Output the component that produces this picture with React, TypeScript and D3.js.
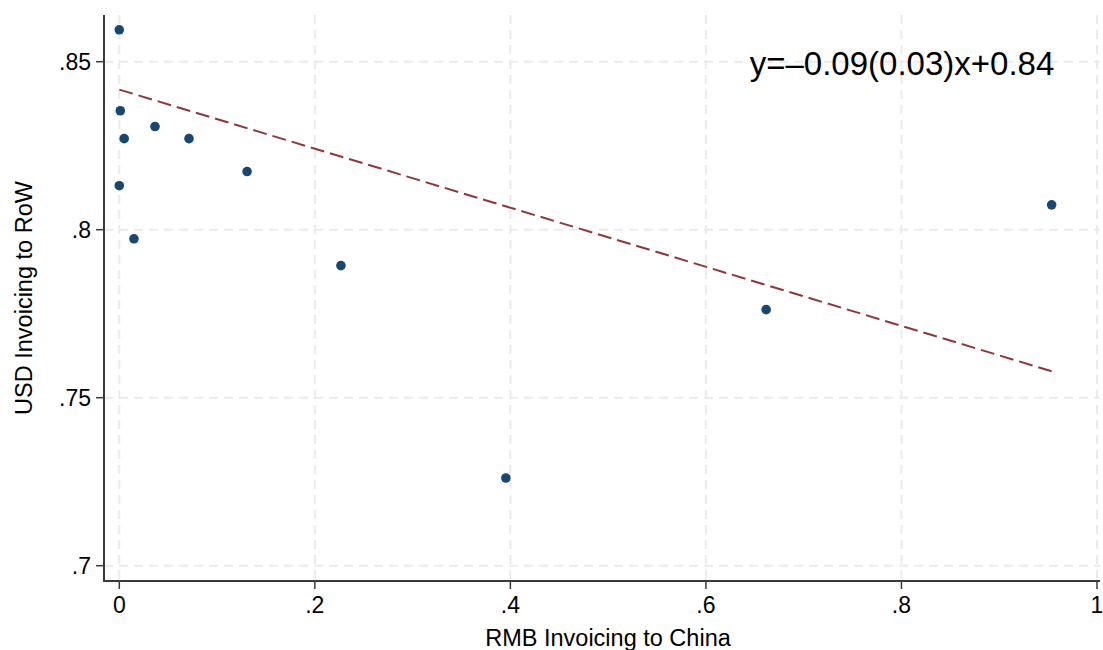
import React, { useEffect, useRef } from "react";
import * as d3 from "d3";

// RMB share of invoicing to China vs. USD share of invoicing to the rest of the world
const rmbToChina = [0.0, 0.001, 0.005, 0.0365, 0.0713, 0.1307, 0.0, 0.015, 0.2267, 0.3954, 0.6616, 0.9536];
const usdToRow = [0.8595, 0.8354, 0.8271, 0.8307, 0.8271, 0.8173, 0.8131, 0.7973, 0.7893, 0.7261, 0.7762, 0.8074];

// Fitted line (coefficients reported in the annotation)
const fitIntercept = 0.8417;
const fitSlope = -0.0879;
const fitLabel = "y=\u20130.09(0.03)x+0.84";

const xTicks = [0, 0.2, 0.4, 0.6, 0.8, 1];
const xTickLabels = ["0", ".2", ".4", ".6", ".8", "1"];
const yTicks = [0.7, 0.75, 0.8, 0.85];
const yTickLabels = [".7", ".75", ".8", ".85"];

const W = 1103;
const H = 650;
const FONT = "'Liberation Sans', Arial, Helvetica, sans-serif";

export default function App() {
  const ref = useRef<SVGSVGElement>(null);

  useEffect(() => {
    const svg = d3.select(ref.current);
    svg.selectAll("*").remove();

    const x = d3.scaleLinear().domain([0, 1]).range([119.3, 1097]);
    const y = d3.scaleLinear().domain([0.7, 0.85]).range([565.7, 61.7]);

    const plotLeft = 104;
    const plotRight = 1100;
    const plotTop = 15;
    const plotBottom = 581;

    // grid
    const grid = svg.append("g");
    grid
      .selectAll("line.h")
      .data(yTicks)
      .join("line")
      .attr("x1", plotLeft)
      .attr("x2", plotRight)
      .attr("y1", (d) => y(d))
      .attr("y2", (d) => y(d))
      .attr("stroke", "#ebebeb")
      .attr("stroke-width", 2)
      .attr("stroke-dasharray", "9,6");
    grid
      .selectAll("line.v")
      .data(xTicks)
      .join("line")
      .attr("x1", (d) => x(d))
      .attr("x2", (d) => x(d))
      .attr("y1", plotTop)
      .attr("y2", plotBottom)
      .attr("stroke", "#ebebeb")
      .attr("stroke-width", 2)
      .attr("stroke-dasharray", "9,6");

    // fitted line
    const xMax = d3.max(rmbToChina) as number;
    const fitPts: [number, number][] = [
      [0, fitIntercept],
      [xMax, fitIntercept + fitSlope * xMax],
    ];
    svg
      .append("path")
      .attr(
        "d",
        d3
          .line<[number, number]>()
          .x((d) => x(d[0]))
          .y((d) => y(d[1]))(fitPts)
      )
      .attr("fill", "none")
      .attr("stroke", "#90353b")
      .attr("stroke-width", 2)
      .attr("stroke-dasharray", "14,6");

    // points
    svg
      .append("g")
      .selectAll("circle")
      .data(rmbToChina.map((v, i) => [v, usdToRow[i]]))
      .join("circle")
      .attr("cx", (d) => x(d[0]))
      .attr("cy", (d) => y(d[1]))
      .attr("r", 4.8)
      .attr("fill", "#1a476f");

    // axes lines
    svg
      .append("line")
      .attr("x1", plotLeft)
      .attr("x2", plotLeft)
      .attr("y1", plotTop)
      .attr("y2", plotBottom + 1)
      .attr("stroke", "#3a3a3a")
      .attr("stroke-width", 2);
    svg
      .append("line")
      .attr("x1", plotLeft - 1)
      .attr("x2", plotRight)
      .attr("y1", plotBottom)
      .attr("y2", plotBottom)
      .attr("stroke", "#3a3a3a")
      .attr("stroke-width", 2);

    // y ticks
    const yt = svg.append("g");
    yt.selectAll("line")
      .data(yTicks)
      .join("line")
      .attr("x1", plotLeft - 8)
      .attr("x2", plotLeft)
      .attr("y1", (d) => y(d))
      .attr("y2", (d) => y(d))
      .attr("stroke", "#3a3a3a")
      .attr("stroke-width", 1.5);
    yt.selectAll("text")
      .data(yTicks)
      .join("text")
      .attr("x", plotLeft - 13)
      .attr("y", (d) => y(d))
      .attr("dy", "0.35em")
      .attr("text-anchor", "end")
      .attr("font-family", FONT)
      .attr("font-size", 23)
      .attr("fill", "#000")
      .text((_, i) => yTickLabels[i]);

    // x ticks
    const xt = svg.append("g");
    xt.selectAll("line")
      .data(xTicks)
      .join("line")
      .attr("x1", (d) => x(d))
      .attr("x2", (d) => x(d))
      .attr("y1", plotBottom)
      .attr("y2", plotBottom + 8)
      .attr("stroke", "#3a3a3a")
      .attr("stroke-width", 1.5);
    xt.selectAll("text")
      .data(xTicks)
      .join("text")
      .attr("x", (d) => x(d))
      .attr("y", 613)
      .attr("text-anchor", "middle")
      .attr("font-family", FONT)
      .attr("font-size", 23)
      .attr("fill", "#000")
      .text((_, i) => xTickLabels[i]);

    // axis titles
    svg
      .append("text")
      .attr("x", 608)
      .attr("y", 646)
      .attr("text-anchor", "middle")
      .attr("font-family", FONT)
      .attr("font-size", 23.5)
      .attr("fill", "#000")
      .text("RMB Invoicing to China");
    svg
      .append("text")
      .attr("transform", `translate(32,298) rotate(-90)`)
      .attr("text-anchor", "middle")
      .attr("font-family", FONT)
      .attr("font-size", 23.5)
      .attr("fill", "#000")
      .text("USD Invoicing to RoW");

    // fit annotation
    svg
      .append("text")
      .attr("x", 902)
      .attr("y", 75)
      .attr("text-anchor", "middle")
      .attr("font-family", FONT)
      .attr("font-size", 33)
      .attr("fill", "#000")
      .text(fitLabel);
  }, []);

  return (
    <svg
      ref={ref}
      width={W}
      height={H}
      style={{ position: "absolute", left: 0, top: 0, background: "#fff" }}
    />
  );
}
